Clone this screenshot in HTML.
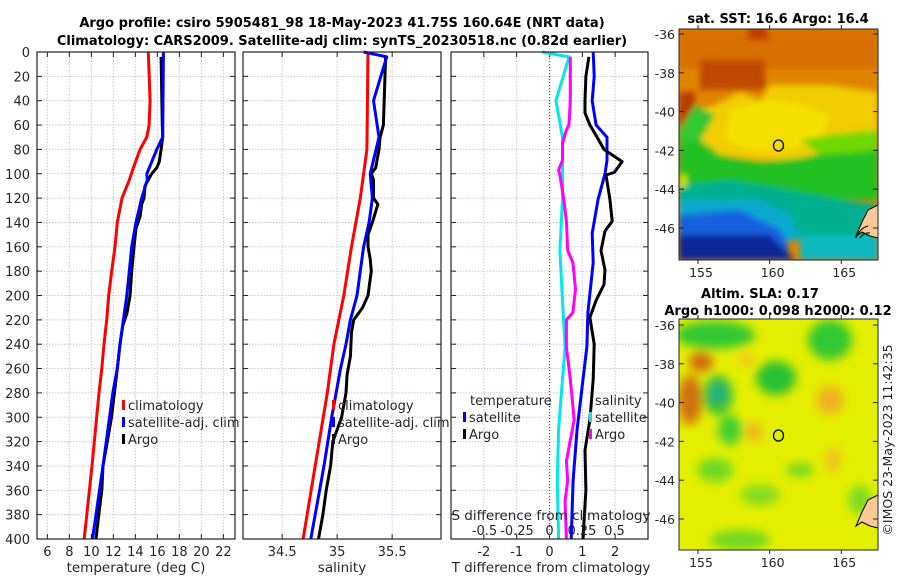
<!DOCTYPE html>
<html><head><meta charset="utf-8"><style>
html,body{margin:0;padding:0;background:#fff;}
svg{display:block;font-family:"DejaVu Sans","Liberation Sans",sans-serif;}
</style></head><body>
<svg id="fig" width="900" height="580" viewBox="0 0 900 580" xmlns="http://www.w3.org/2000/svg">
<defs>
<filter id="bl" x="-50%" y="-50%" width="200%" height="200%"><feGaussianBlur stdDeviation="5"/></filter>
<filter id="bl2" x="-10%" y="-10%" width="120%" height="120%"><feGaussianBlur stdDeviation="3"/></filter>
<clipPath id="c1"><rect x="679" y="29" width="199" height="231"/></clipPath>
<clipPath id="c2"><rect x="679" y="319" width="199" height="231"/></clipPath>
</defs>
<text x="342" y="27" text-anchor="middle" font-size="13" font-weight="bold">Argo profile: csiro 5905481_98 18-May-2023 41.75S 160.64E (NRT data)</text>
<text x="342" y="45" text-anchor="middle" font-size="13" font-weight="bold">Climatology: CARS2009. Satellite-adj clim: synTS_20230518.nc (0.82d earlier)</text>

<!-- SST map -->
<g clip-path="url(#c1)">
<rect x="679" y="29" width="199" height="231" fill="#e08400"/>
<g filter="url(#bl2)">
<rect x="679" y="29" width="199" height="40" fill="#d87000"/>
<rect x="700" y="60" width="65" height="30" fill="#c04a00"/>
<rect x="679" y="92" width="16" height="48" fill="#b83c00"/>
<rect x="748" y="25" width="20" height="15" fill="#c04000"/>
<polygon points="715,105 740,92 760,100 770,85 830,85 878,92 878,150 860,160 835,150 800,160 760,160 720,155 700,140 695,110" fill="#f0cc00"/>
<polygon points="730,110 770,100 800,105 830,115 820,140 790,150 750,150 725,140" fill="#f4e000"/>
<polygon points="679,145 700,140 720,155 760,162 800,158 840,150 878,140 878,200 679,200" fill="#20c020"/>
<polygon points="695,105 715,115 700,140 679,145 679,130" fill="#30c830"/>
<polygon points="800,140 830,135 878,130 878,150 820,155" fill="#70d800"/>
<polygon points="679,185 730,180 790,190 840,200 878,205 878,240 679,240" fill="#00b090"/>
<polygon points="679,200 760,200 790,215 800,240 679,250" fill="#10a8d0"/>
<polygon points="679,215 740,210 780,230 790,250 679,260" fill="#1860e0"/>
<polygon points="679,235 770,235 795,260 679,260" fill="#102898"/>
<polygon points="800,235 878,235 878,260 800,260" fill="#10b8c0"/>
<rect x="679" y="175" width="8" height="12" fill="#c0e000"/>
</g>
<path d="M878,205 L868,210 L862,222 L856,236 L862,232 L870,236 L878,238 Z" fill="#fbc896" stroke="#000" stroke-width="1"/>
<path d="M856,238 Q860,228 868,226 M860,238 Q864,232 870,233" fill="none" stroke="#000" stroke-width="1"/>
<ellipse cx="778.5" cy="145.5" rx="5" ry="5.5" fill="none" stroke="#000" stroke-width="1.3"/>
</g>
<rect x="679" y="29" width="199" height="231" fill="none" stroke="#222" stroke-width="1"/>
<text x="778" y="23" text-anchor="middle" font-size="13" font-weight="bold">sat. SST: 16.6 Argo: 16.4</text>

<!-- Altimetry map -->
<g clip-path="url(#c2)">
<rect x="679" y="319" width="199" height="231" fill="#e4ee00"/>
<g filter="url(#bl)">
<ellipse cx="690" cy="400" rx="12" ry="25" fill="#d07010"/>
<ellipse cx="701" cy="362" rx="12" ry="10" fill="#d06810"/>
<ellipse cx="715" cy="335" rx="40" ry="14" fill="#30c830"/>
<ellipse cx="830" cy="340" rx="22" ry="20" fill="#30c830"/>
<ellipse cx="718" cy="395" rx="15" ry="20" fill="#30c040"/>
<ellipse cx="718" cy="393" rx="6" ry="9" fill="#20a890"/>
<ellipse cx="776" cy="378" rx="20" ry="17" fill="#28c030"/>
<ellipse cx="730" cy="430" rx="12" ry="15" fill="#40d030"/>
<ellipse cx="715" cy="470" rx="18" ry="12" fill="#70d820"/>
<ellipse cx="760" cy="495" rx="20" ry="10" fill="#80dc20"/>
<ellipse cx="830" cy="400" rx="14" ry="14" fill="#f0b020"/>
<ellipse cx="754" cy="432" rx="8" ry="10" fill="#f0b020"/>
<ellipse cx="747" cy="360" rx="8" ry="6" fill="#f0c020"/>
<ellipse cx="833" cy="460" rx="8" ry="12" fill="#f0c020"/>
<ellipse cx="800" cy="470" rx="14" ry="7" fill="#70d820"/>
<ellipse cx="860" cy="500" rx="12" ry="15" fill="#80dc20"/>
<ellipse cx="740" cy="540" rx="30" ry="10" fill="#70d820"/>
</g>
<path d="M878,495 L868,500 L862,512 L856,526 L862,522 L870,526 L878,528 Z" fill="#fbc896" stroke="#000" stroke-width="1"/>
<ellipse cx="778.5" cy="435.5" rx="5" ry="5.5" fill="none" stroke="#000" stroke-width="1.3"/>
</g>
<rect x="679" y="319" width="199" height="231" fill="none" stroke="#222" stroke-width="1"/>
<text x="760" y="298" text-anchor="middle" font-size="13" font-weight="bold">Altim. SLA: 0.17</text>
<text x="778" y="315" text-anchor="middle" font-size="13" font-weight="bold">Argo h1000: 0.098 h2000: 0.12</text>
<text transform="translate(892,440) rotate(-90)" text-anchor="middle" font-size="12.5" fill="#222">©IMOS 23-May-2023 11:42:35</text>
<g id="plots"></g>
</svg>
<script>
// ---- data ----
const depthTicks = [0,20,40,60,80,100,120,140,160,180,200,220,240,260,280,300,320,340,360,380,400];
const tempTicks = [6,8,10,12,14,16,18,20,22];
const salTicks = [34.5,35,35.5];
const tdiffTicks = [-2,-1,0,1,2];
const sdiffTicks = [-0.5,-0.25,0,0.25,0.5];
const sdiffTickLabels = ["-0.5","-0.25","0","0.25","0.5"];
const latTicks = [-36,-38,-40,-42,-44,-46];
const lonTicks = [155,160,165];

const tClimDepth = [0,40,60,70,80,95,105,120,140,160,180,200,220,240,260,280,340,400];
const tClim = [15.18,15.34,15.25,15.04,14.43,13.82,13.46,12.79,12.36,12.15,11.85,11.58,11.40,11.15,10.95,10.70,10.06,9.35];
const tSatDepth = [0,70,80,100,105,120,140,160,180,200,220,240,260,280,340,400];
const tSat = [16.55,16.49,15.95,15.04,15.09,14.58,14.06,13.67,13.45,13.22,12.91,12.61,12.36,11.95,11.06,10.11];
const tArgoDepth = [4,60,70,80,90,95,100,105,110,120,125,135,145,160,180,200,215,225,240,260,280,300,320,340,360,380,400];
const tArgo = [16.34,16.45,16.49,16.34,16.18,15.95,15.49,15.18,14.88,14.79,14.58,14.43,14.06,13.88,13.67,13.52,13.22,12.85,12.61,12.36,12.10,11.83,11.45,11.06,10.95,10.68,10.42];

const sClimDepth = [0,80,120,160,200,240,280,340,400];
const sClim = [35.28,35.27,35.21,35.13,35.06,34.97,34.91,34.80,34.69];
const sSatDepth = [0,4,40,70,100,120,140,160,180,200,220,240,260,280,300,340,400];
const sSat = [35.24,35.45,35.33,35.38,35.30,35.32,35.29,35.24,35.21,35.18,35.12,35.08,35.03,34.99,34.95,34.88,34.76];
const sArgoDepth = [4,60,70,80,95,100,105,120,125,140,150,160,170,180,200,210,220,230,250,265,280,300,320,340,360,380,400];
const sArgo = [35.44,35.42,35.39,35.38,35.35,35.31,35.33,35.33,35.37,35.32,35.28,35.28,35.30,35.31,35.28,35.23,35.15,35.13,35.12,35.09,35.08,35.04,34.96,34.94,34.90,34.87,34.83];

const dTSatDepth = [0,20,40,60,70,89,100,121,149,173,214,242,269,310,352,400];
const dTSat = [1.33,1.36,1.30,1.42,1.75,1.75,1.69,1.48,1.30,1.33,1.17,1.14,1.02,0.84,0.72,0.66];
const dTArgoDepth = [4,20,40,50,60,70,80,90,99,101,121,139,147,163,179,191,204,218,240,269,302,327,360,400];
const dTArgo = [1.20,1.11,1.08,1.08,1.23,1.45,1.66,2.21,1.97,1.72,1.84,1.91,1.69,1.57,1.69,1.66,1.42,1.23,1.36,1.33,1.23,1.08,1.11,1.02];
const dSSatDepth = [0,4,40,70,89,121,163,204,242,269,310,352,400];
const dSSat = [-0.06,0.15,0.05,0.10,0.10,0.10,0.08,0.10,0.12,0.10,0.07,0.06,0.07];
const dSArgoDepth = [4,40,60,64,75,89,97,101,121,139,163,173,195,214,220,242,269,302,319,336,352,369,400];
const dSArgo = [0.16,0.16,0.15,0.13,0.10,0.10,0.07,0.08,0.11,0.13,0.14,0.18,0.20,0.18,0.13,0.13,0.16,0.19,0.16,0.13,0.14,0.12,0.13];

// ---- scales ----
const Y0=52, Y1=539;
const yD = d => Y0 + d*(Y1-Y0)/400;
const lin = (d0,d1,r0,r1) => v => r0 + (v-d0)*(r1-r0)/(d1-d0);
const xT = lin(5.06,23.06,37,235);
const xS = lin(34.144,35.944,243,441);
const xDT = lin(-3,3,451,648);
const xDS = lin(-0.758,0.758,451,648);
const latY1 = lin(-36,-46,34,228);
const latY2 = lin(-36,-46,325,519);
const lonX = lin(155,165,698,841.3);

const NS="http://www.w3.org/2000/svg";
const root=document.getElementById('plots');
function mk(tag, attrs, parent){const e=document.createElementNS(NS,tag);for(const k in attrs)e.setAttribute(k,attrs[k]);(parent||root).appendChild(e);return e;}
function txt(x,y,s,anchor,size,parent){const t=mk('text',{x:x,y:y,'text-anchor':anchor||'middle','font-size':size||13,fill:'#262626'},parent);t.textContent=s;return t;}

function panel(name,x0,x1,xs,ticks,labels,gridTicks){
  const g=mk('g',{});
  
  
  gridTicks.forEach(v=>{const l=mk('line',{x1:xs(v),x2:xs(v),y1:Y0,y2:Y1,stroke:'#c4c8e4','stroke-width':1,'stroke-dasharray':'1.5,1.5'},g);
    
    });
  depthTicks.forEach(d=>{const l=mk('line',{x1:x0,x2:x1,y1:yD(d),y2:yD(d),stroke:'#c4c8e4','stroke-width':1,'stroke-dasharray':'1.5,1.5'},g);
    
    
    mk('line',{x1:x0,x2:x0+5,y1:yD(d),y2:yD(d),stroke:'#222'},g);
    mk('line',{x1:x1-5,x2:x1,y1:yD(d),y2:yD(d),stroke:'#222'},g);});
  ticks.forEach((v,i)=>{
    mk('line',{x1:xs(v),x2:xs(v),y1:Y1,y2:Y1-5,stroke:'#222'},g);
    mk('line',{x1:xs(v),x2:xs(v),y1:Y0,y2:Y0+5,stroke:'#222'},g);
    const t=txt(xs(v),556,labels[i],'middle',13,g);
    
    
  });
  return g;
}
function frame(x0,x1,name){const r=mk('rect',{x:x0,y:Y0,width:x1-x0,height:Y1-Y0,fill:'none',stroke:'#222','stroke-width':1.2});
  
  }
function series(xs,depths,vals,color,name,w){
  const pts=depths.map((d,i)=>xs(vals[i]).toFixed(1)+','+yD(d).toFixed(1)).join(' ');
  const p=mk('polyline',{points:pts,fill:'none',stroke:color,'stroke-width':w||3,'stroke-linejoin':'round'});
  
  
}
function legendEntry(x,y,color,label,name){
  const b=mk('rect',{x:x,y:y-10,width:3,height:10,fill:color});
  
  
  const t=txt(x+6,y,label,'start',13);
  
  
}

depthTicks.forEach(d=>{const t=txt(30,yD(d)+5,String(d),'end',13);
  
  });

// Panel 1
panel('temperature-panel',37,235,xT,tempTicks,tempTicks.map(String),tempTicks);
series(xT,tClimDepth,tClim,'#ff0000','temperature-climatology-line');
series(xT,tArgoDepth,tArgo,'#000000','temperature-argo-line');
series(xT,tSatDepth,tSat,'#0000ff','temperature-satellite-line');
frame(37,235,'temperature-axes-frame');
let xl=txt(136,572,'temperature (deg C)','middle',13.5);  
legendEntry(122,410,'#ff0000','climatology','legend-climatology');
legendEntry(122,427,'#0000ff','satellite-adj. clim','legend-satellite-adj');
legendEntry(122,444,'#000000','Argo','legend-argo');

// Panel 2
panel('salinity-panel',243,441,xS,salTicks,['34.5','35','35.5'],salTicks);
series(xS,sClimDepth,sClim,'#ff0000','salinity-climatology-line');
series(xS,sArgoDepth,sArgo,'#000000','salinity-argo-line');
series(xS,sSatDepth,sSat,'#0000ff','salinity-satellite-line');
frame(243,441,'salinity-axes-frame');
xl=txt(342,572,'salinity','middle',13.5);  
legendEntry(332,410,'#ff0000','climatology','legend-sal-climatology');
legendEntry(332,427,'#0000ff','satellite-adj. clim','legend-sal-satellite-adj');
legendEntry(332,444,'#000000','Argo','legend-sal-argo');

// Panel 3
panel('difference-panel',451,648,xDT,tdiffTicks,tdiffTicks.map(String),tdiffTicks);
const zl=mk('line',{x1:xDT(0),x2:xDT(0),y1:Y0,y2:Y1,stroke:'#556b2f','stroke-width':1.2,'stroke-dasharray':'1,2'});


series(xDS,dSSatDepth,dSSat,'#00e8e8','salinity-diff-satellite-line');
series(xDS,dSArgoDepth,dSArgo,'#ff00ff','salinity-diff-argo-line');
series(xDT,dTSatDepth,dTSat,'#0000ff','temperature-diff-satellite-line');
series(xDT,dTArgoDepth,dTArgo,'#000000','temperature-diff-argo-line');
frame(451,648,'difference-axes-frame');
xl=txt(551,572,'T difference from climatology','middle',13.5);  
xl=txt(551,520,'S difference from climatology','middle',13.5);  
sdiffTicks.forEach((v,i)=>{const t=txt(xDS(v),535,sdiffTickLabels[i],'middle',13);
  
  });
xl=txt(470,405,'temperature','start',13);  
xl=txt(595,405,'salinity','start',13);  
legendEntry(463,422,'#0000ff','satellite','legend-t-satellite');
legendEntry(463,439,'#000000','Argo','legend-t-argo');
legendEntry(589,422,'#00e8e8','satellite','legend-s-satellite');
legendEntry(589,439,'#ff00ff','Argo','legend-s-argo');

function mapAxes(latY,yTop,yBot,name){
  latTicks.forEach(v=>{
    mk('line',{x1:679,x2:684,y1:latY(v),y2:latY(v),stroke:'#222'});
    mk('line',{x1:873,x2:878,y1:latY(v),y2:latY(v),stroke:'#222'});
    const t=txt(675,latY(v)+5,String(v),'end',12.5);
    
    
  });
  lonTicks.forEach(v=>{
    mk('line',{x1:lonX(v),x2:lonX(v),y1:yBot,y2:yBot+4,stroke:'#222'});
    mk('line',{x1:lonX(v),x2:lonX(v),y1:yTop,y2:yTop-4,stroke:'#222'});
    const t=txt(lonX(v)+3,yBot+17,String(v),'middle',12.5);
    
    
  });
}
mapAxes(latY1,29,260,'sst-map');
mapAxes(latY2,319,550,'sla-map');
</script>
</body></html>
